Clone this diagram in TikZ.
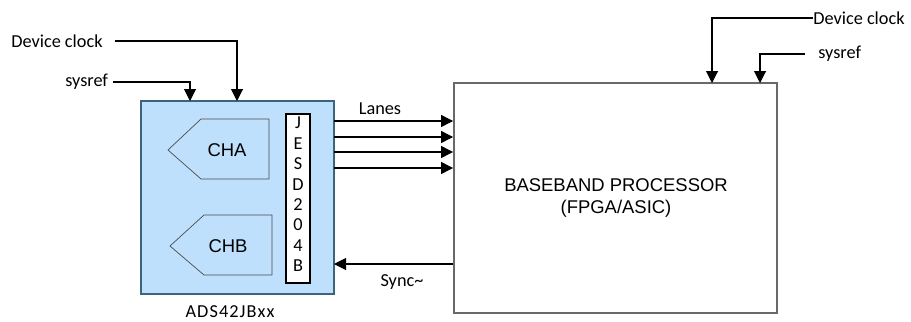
\documentclass[tikz,border=0pt]{standalone}
\usepackage{fontspec}
\setmainfont{Carlito}
\newfontfamily\arialfont{Liberation Sans}
\usepackage{tikz}
\usetikzlibrary{arrows.meta, positioning, calc}

\definecolor{adcfill}{RGB}{190,224,252}
\definecolor{adcdraw}{RGB}{60,100,125}
\definecolor{bbdraw}{RGB}{105,105,105}

\begin{document}
\begin{tikzpicture}[
    x=0.02cm, y=-0.02cm,
    >={Triangle[width=0.24cm, length=0.24cm]},
    sig/.style={font=\fontsize{10.4}{12}\selectfont, inner sep=0pt},
    chip/.style={draw=adcdraw, fill=adcfill, line width=1.1pt},
    proc/.style={draw=bbdraw, fill=white, line width=1.1pt},
    chan/.style={draw=black!70, fill=adcfill, line width=0.4pt},
    big/.style={font=\arialfont\fontsize{10.5}{12.6}\selectfont, align=center},
    arrow/.style={->, line width=0.6pt},
    wire/.style={line width=0.6pt},
]

\useasboundingbox (0,0) rectangle (911,321);

% === ADC block ===

\path[chip] (141,101) rectangle (334,294);
\coordinate (adc-nw) at (141,101);
\coordinate (adc-se) at (334,294);
\node[sig, font=\fontsize{10.4}{12}\selectfont\addfontfeatures{LetterSpace=6}] (adc-name) at (230,312) {ADS42JBxx};

% channel blocks
\draw[chan] (168,150) -- (201,119) -- (269,119) -- (269,179) -- (201,179) -- cycle;
\node[big] (cha) at (227,150) {CHA};
\draw[chan] (170,246) -- (204,215) -- (272,215) -- (272,275) -- (204,275) -- cycle;
\node[big] (chb) at (228,246) {CHB};

% JESD204B strip
\node[draw, fill=white, line width=0.6pt, minimum width=0.48cm, minimum height=3.38cm,
      inner sep=0pt] (jesd) at (298,198.5) {};
\foreach \ch [count=\i from 0] in {J,E,S,D,2,0,4,B}
    \node[sig] at (298,{123+\i*20.4}) {\ch};

% === Baseband processor ===

\node[proc, minimum width=6.46cm, minimum height=4.6cm, inner sep=0pt] (bb) at (615.5,198) {};
\node[big] (bb-text) at (616,198) {BASEBAND PROCESSOR\\(FPGA/ASIC)};

% === Clock inputs, left ===

\node[sig, anchor=west] (clk-l) at (11,41) {Device clock};
\node[sig, anchor=west] (ref-l) at (65,82) {sysref};
\coordinate (clk-l-in) at (237,101);
\coordinate (ref-l-in) at (190,101);

\draw[arrow] ([xshift=0.24cm]clk-l.east) -| (clk-l-in);
\draw[arrow] ([xshift=0.1cm]ref-l.east) -| (ref-l-in);

% === Clock inputs, right ===

\node[sig, anchor=west] (clk-r) at (813,18) {Device clock};
\node[sig, anchor=west] (ref-r) at (818,54) {sysref};
\coordinate (clk-r-in) at (712,83);
\coordinate (ref-r-in) at (760,83);

\draw[arrow] (clk-r.west) -| (clk-r-in);
\draw[arrow] ([xshift=-0.26cm]ref-r.west) -| (ref-r-in);

% === Lanes and sync ===

\foreach \y in {121,137,152,168}
    \draw[arrow] (adc-se |- 0,\y) -- (bb.west |- 0,\y);
\node[sig] (lanes) at (380,109) {Lanes};

\draw[arrow] (bb.west |- 0,264) -- (adc-se |- 0,264);
\node[sig] (sync) at (402,282) {Sync\textasciitilde};

\end{tikzpicture}
\end{document}
